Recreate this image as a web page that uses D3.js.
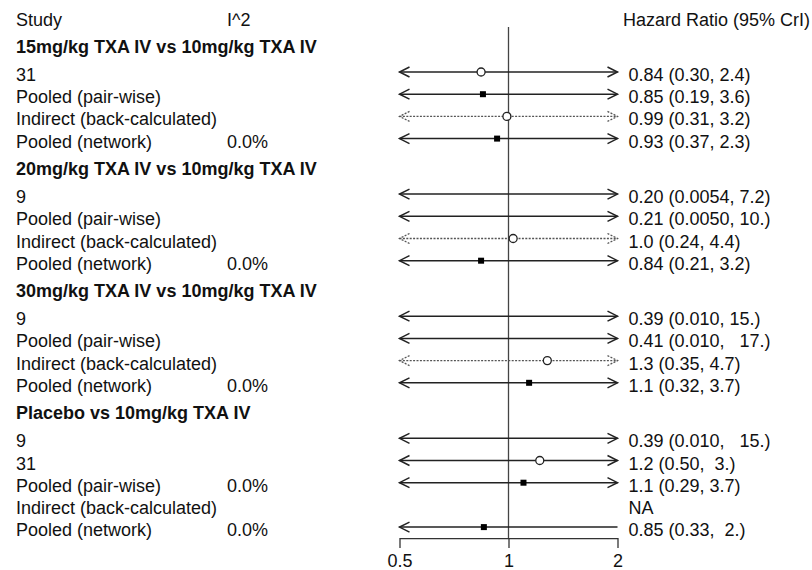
<!DOCTYPE html>
<html>
<head>
<meta charset="utf-8">
<script src="https://cdn.jsdelivr.net/npm/d3@7"></script>
<style>
  html, body { margin: 0; padding: 0; background: #fff; }
  svg text { font-family: "Liberation Sans", Arial, sans-serif; font-size: 18px; fill: #111; white-space: pre; }
</style>
</head>
<body>
<svg id="chart" width="812" height="570"></svg>
<script>
// ---- data ----
const groups = [
  "15mg/kg TXA IV vs 10mg/kg TXA IV",
  "20mg/kg TXA IV vs 10mg/kg TXA IV",
  "30mg/kg TXA IV vs 10mg/kg TXA IV",
  "Placebo vs 10mg/kg TXA IV"
];
const rowGroup = [0,0,0,0, 1,1,1,1, 2,2,2,2, 3,3,3,3,3];
const rowNames = [
  "31", "Pooled (pair-wise)", "Indirect (back-calculated)", "Pooled (network)",
  "9", "Pooled (pair-wise)", "Indirect (back-calculated)", "Pooled (network)",
  "9", "Pooled (pair-wise)", "Indirect (back-calculated)", "Pooled (network)",
  "9", "31", "Pooled (pair-wise)", "Indirect (back-calculated)", "Pooled (network)"
];
const rowType = [
  "study","pooled","indirect","pooled",
  "study","pooled","indirect","pooled",
  "study","pooled","indirect","pooled",
  "study","study","pooled","indirect","pooled"
];
const rowI2 = ["", "", "", "0.0%", "", "", "", "0.0%", "", "", "", "0.0%", "", "", "0.0%", "", "0.0%"];
const rowEst   = [0.84, 0.85, 0.99, 0.93, 0.20, 0.21, 1.03, 0.84, 0.39, 0.41, 1.28, 1.14, 0.39, 1.22, 1.10, null, 0.855];
const rowLower = [0.30, 0.19, 0.31, 0.37, 0.0054, 0.0050, 0.24, 0.21, 0.010, 0.010, 0.35, 0.32, 0.010, 0.495, 0.29, null, 0.33];
const rowUpper = [2.4, 3.6, 3.2, 2.3, 7.2, 10, 4.4, 3.2, 15, 17, 4.7, 3.7, 15, 3.0, 3.7, null, 2.0];
const rowLabels = [
  "0.84 (0.30, 2.4)", "0.85 (0.19, 3.6)", "0.99 (0.31, 3.2)", "0.93 (0.37, 2.3)",
  "0.20 (0.0054, 7.2)", "0.21 (0.0050, 10.)", "1.0 (0.24, 4.4)", "0.84 (0.21, 3.2)",
  "0.39 (0.010, 15.)", "0.41 (0.010,   17.)", "1.3 (0.35, 4.7)", "1.1 (0.32, 3.7)",
  "0.39 (0.010,   15.)", "1.2 (0.50,  3.)", "1.1 (0.29, 3.7)", "NA", "0.85 (0.33,  2.)"
];
const columnHeaders = ["Study", "I^2", "Hazard Ratio (95% CrI)"];
const xTicks = [0.5, 1, 2];
const xTickLabels = ["0.5", "1", "2"];

// ---- layout ----
const svg = d3.select("#chart");
const x = d3.scaleLog().domain([0.5, 2]).range([399.5, 617.5]);
// slot index -> y pixel
const y = d3.scaleLinear().domain([0, 1]).range([72, 94.2]);
const groupStride = 5.5;

const rowSlot = [];
{
  const counts = {};
  rowGroup.forEach((g, i) => {
    counts[g] = (counts[g] || 0);
    rowSlot.push(g * groupStride + counts[g]);
    counts[g] += 1;
  });
}
const rows = rowNames.map((n, i) => ({
  name: n, g: rowGroup[i], type: rowType[i], i2: rowI2[i],
  est: rowEst[i], lo: rowLower[i], hi: rowUpper[i], label: rowLabels[i],
  y: y(rowSlot[i])
}));

const colStudy = 16, colI2 = 227, colRight = 628.5;
const [dmin, dmax] = x.domain();

// column headers
svg.append("text").attr("x", colStudy).attr("y", 26).text(columnHeaders[0]);
svg.append("text").attr("x", colI2).attr("y", 26).text(columnHeaders[1]);
svg.append("text").attr("x", 623).attr("y", 26).text(columnHeaders[2]);

// group headers
svg.selectAll("text.grp").data(groups).join("text")
  .attr("class", "grp")
  .attr("x", colStudy)
  .attr("y", (d, g) => y(g * groupStride) - 19.5)
  .style("font-weight", "bold")
  .text(d => d);

// reference line at 1
const lastY = d3.max(rows, r => r.y);
const axisY = lastY + 11;
svg.append("line")
  .attr("x1", x(1)).attr("x2", x(1))
  .attr("y1", 27).attr("y2", axisY)
  .attr("stroke", "#444").attr("stroke-width", 1.3);

// row labels
const rowG = svg.selectAll("g.row").data(rows).join("g").attr("class", "row");
rowG.append("text").attr("x", colStudy).attr("y", d => d.y + 9).text(d => d.name);
rowG.append("text").attr("x", colI2).attr("y", d => d.y + 9).text(d => d.i2);
rowG.append("text").attr("x", colRight).attr("y", d => d.y + 9).text(d => d.label);

// intervals
const ci = rows.filter(r => r.lo != null);
ci.forEach(r => {
  const g = svg.append("g");
  const dotted = r.type === "indirect";
  const col = dotted ? "#555" : "#222";
  const sw = dotted ? 1.3 : 1.5;
  const dash = dotted ? "2,1.4" : null;
  const x1 = x(Math.max(r.lo, dmin)), x2 = x(Math.min(r.hi, dmax));
  g.append("line").attr("x1", x1).attr("x2", x2).attr("y1", r.y).attr("y2", r.y)
    .attr("stroke", col).attr("stroke-width", sw).attr("stroke-dasharray", dash);
  const ah = 10, av = 5;
  if (r.lo < dmin) {
    g.append("path").attr("d", `M${x1 + ah},${r.y - av}L${x1},${r.y}L${x1 + ah},${r.y + av}`)
      .attr("fill", "none").attr("stroke", col).attr("stroke-width", sw).attr("stroke-dasharray", dash);
  }
  if (r.hi > dmax) {
    g.append("path").attr("d", `M${x2 - ah},${r.y - av}L${x2},${r.y}L${x2 - ah},${r.y + av}`)
      .attr("fill", "none").attr("stroke", col).attr("stroke-width", sw).attr("stroke-dasharray", dash);
  }
  if (r.est >= dmin && r.est <= dmax) {
    const cx = x(r.est);
    if (r.type === "pooled") {
      g.append("rect").attr("x", cx - 3).attr("y", r.y - 3).attr("width", 6).attr("height", 6)
        .attr("fill", "#000");
    } else {
      g.append("circle").attr("cx", cx).attr("cy", r.y).attr("r", 4)
        .attr("fill", "#fff").attr("stroke", "#222").attr("stroke-width", 1.3);
    }
  }
});

// x axis
const axis = svg.append("g").attr("transform", `translate(0,${axisY})`)
  .call(d3.axisBottom(x).tickValues(xTicks).tickFormat((d, i) => xTickLabels[i]).tickSize(10).tickSizeOuter(0));
axis.select(".domain").attr("stroke", "#333").attr("stroke-width", 1.3);
axis.selectAll(".tick line").attr("stroke", "#333").attr("stroke-width", 1.3);
axis.selectAll(".tick text").attr("dy", null).attr("y", 29)
  .style("font-family", "'Liberation Sans', Arial, sans-serif").style("font-size", "18px").attr("fill", "#111");
</script>
</body>
</html>
